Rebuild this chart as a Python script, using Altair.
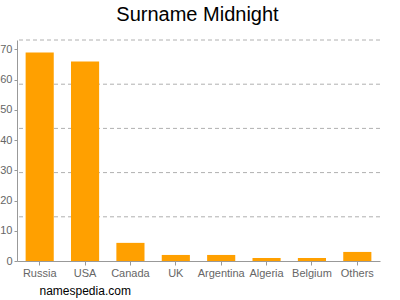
import altair as alt
import pandas as pd

countries = ["Russia", "USA", "Canada", "UK", "Argentina", "Algeria", "Belgium", "Others"]
counts = [69, 66, 6, 2, 2, 1, 1, 3]
y_ticks = [0, 10, 20, 30, 40, 50, 60, 70]

ymax = max(counts) * 1.06
grid_vals = [ymax * k / 5 for k in range(1, 6)]

bars_df = pd.DataFrame({"country": countries, "count": counts})
grid_df = pd.DataFrame({"g": grid_vals})

FONT = "Liberation Sans"
LABEL = "#666666"

yscale = alt.Scale(domain=[0, ymax], nice=False, zero=True)
yaxis = alt.Axis(
    title=None,
    values=y_ticks,
    grid=False,
    labelFont=FONT,
    labelFontSize=11,
    labelColor=LABEL,
    labelPadding=2,
    tickSize=3,
    tickColor="#999999",
    domainColor="#999999",
)

grid = alt.Chart(grid_df).mark_rule(
    color="#b0b0b0", strokeDash=[4, 3], strokeWidth=1
).encode(
    y=alt.Y("g:Q", scale=yscale, axis=yaxis),
)

bars = alt.Chart(bars_df).mark_bar(color="#FFA000").encode(
    x=alt.X(
        "country:N",
        sort=None,
        scale=alt.Scale(paddingInner=0.38, paddingOuter=0.19),
        axis=alt.Axis(
            title="namespedia.com",
            titleFont=FONT,
            titleFontSize=12,
            titleFontWeight="normal",
            titleColor="#000000",
            titleAlign="left",
            titleBaseline="alphabetic",
            titleAnchor="start",
            titleX=22,
            titleY=33,
            labelAngle=0,
            labelFont=FONT,
            labelFontSize=11,
            labelColor=LABEL,
            labelPadding=2,
            tickSize=4,
            tickColor="#999999",
            domainColor="#999999",
            grid=False,
        ),
    ),
    y=alt.Y("count:Q", scale=yscale, axis=yaxis),
)

chart = alt.layer(grid, bars).properties(
    width=363,
    height=221,
    autosize=alt.AutoSizeParams(type="none"),
    padding={"left": 17, "top": 40, "right": 20, "bottom": 39},
    title=alt.TitleParams(
        "Surname Midnight",
        font=FONT,
        fontSize=20,
        fontWeight="normal",
        color="#000000",
        anchor="middle",
        baseline="alphabetic",
        offset=20,
        dx=-1,
        dy=21,
    ),
).configure_view(stroke=None)

chart.save("out.html", embed_options={"renderer": "svg", "actions": False})
